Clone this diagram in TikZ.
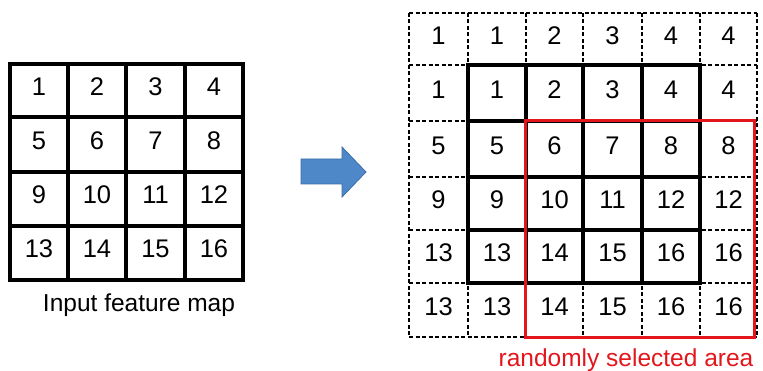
\documentclass[tikz,border=0pt]{standalone}
\usepackage{fontspec}
\setmainfont{Liberation Sans}
\definecolor{selred}{HTML}{E3161C}
\definecolor{arrowfill}{HTML}{4F88C9}
\definecolor{arrowline}{HTML}{3C6DA6}
\begin{document}
\begin{tikzpicture}[x=1pt,y=-1pt,
  thickgrid/.style={line width=4pt,line cap=rect},
  dashgrid/.style={line width=1.2pt,dash pattern=on 4pt off 2.5pt},
  num/.style={font=\fontsize{25.5}{30}\selectfont,inner sep=0pt,anchor=base},
  caption/.style={font=\fontsize{24.5}{29}\selectfont,inner sep=0pt,anchor=base},
  selbox/.style={draw=selred,line width=3pt},
  arrowbody/.style={fill=arrowfill,draw=arrowline,line width=0.8pt,line join=miter}]
\useasboundingbox (0,0) rectangle (763,371);
% ---- left input map ----
\foreach \x in {10,68,126,185,243} \draw[thickgrid] (\x,64) -- (\x,280);
\foreach \y in {64,117,172,226,280} \draw[thickgrid] (10,\y) -- (243,\y);
\foreach \v [count=\i from 0] in {1,...,16}{
  \pgfmathtruncatemacro{\c}{mod(\i,4)}
  \pgfmathtruncatemacro{\r}{div(\i,4)}
  \pgfmathsetmacro{\cx}{{39,97,155.5,214}[\c]}
  \pgfmathsetmacro{\cy}{{90.5,144.5,199,253}[\r]+5}
  \node[num] (L\v) at (\cx,\cy) {\v};
}
\node[caption] (incap) at (139,312) {Input feature map};
% ---- arrow ----
\draw[arrowbody] (301,159) -- (342,159) -- (342,147) -- (366,172) -- (342,197) -- (342,184) -- (301,184) -- cycle;
% ---- right padded map ----
\foreach \x in {409,468,526,583,642,700,757} \draw[dashgrid] (\x,13) -- (\x,337);
\foreach \y in {13,65,121,177,230,283,337} \draw[dashgrid] (409,\y) -- (757,\y);
\foreach \x in {468,526,583,642,700} \draw[thickgrid] (\x,65) -- (\x,283);
\foreach \y in {65,121,177,230,283} \draw[thickgrid] (468,\y) -- (700,\y);
\foreach \v [count=\i from 0] in {1,1,2,3,4,4, 1,1,2,3,4,4, 5,5,6,7,8,8, 9,9,10,11,12,12, 13,13,14,15,16,16, 13,13,14,15,16,16}{
  \pgfmathtruncatemacro{\c}{mod(\i,6)}
  \pgfmathtruncatemacro{\r}{div(\i,6)}
  \pgfmathsetmacro{\cx}{{438.5,497,554.5,612.5,671,728.5}[\c]}
  \pgfmathsetmacro{\cy}{{39,93,149,203.5,256.5,310}[\r]+5.5}
  \node[num] (R\i) at (\cx,\cy) {\v};
}
\draw[selbox] (525,121) rectangle (754,337);
\node[caption,text=selred] (selcap) at (626,366) {randomly selected area};
\end{tikzpicture}
\end{document}
